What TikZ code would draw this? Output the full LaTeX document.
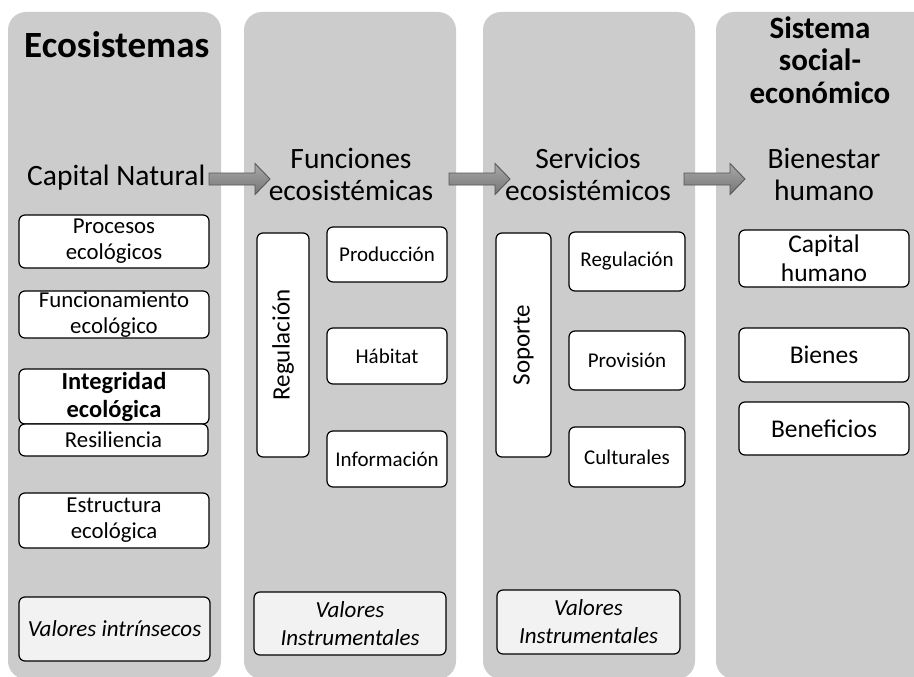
\documentclass[tikz,border=0pt]{standalone}
\usepackage{fontspec}
\setmainfont{Carlito}
\begin{document}
\begin{tikzpicture}[x=1pt,y=-1pt,
  column/.style={fill=colgray, draw=none, rounded corners=18pt},
  box/.style={draw=black, line width=1.2pt, rounded corners=6pt, fill=white,
    inner sep=0pt, align=center, text=black, font=\fontsize{22.8}{26}\selectfont},
  smallbox/.style={box, font=\fontsize{21}{25}\selectfont},
  widebox/.style={box, font=\fontsize{25.5}{29}\selectfont},
  valbox/.style={box, fill=valfill, font=\fontsize{23}{28}\selectfont\itshape},
  vbox/.style={box, rotate=90, font=\fontsize{25}{29}\selectfont},
  heading/.style={inner sep=0pt, align=center, text=black, font=\fontsize{29.5}{32}\selectfont},
  title/.style={inner sep=0pt, align=center, text=black, font=\fontsize{31}{32.5}\selectfont\bfseries},
  barrow/.style={draw=arrowedge, line width=0.9pt, top color=arrowtop, bottom color=arrowbot}
]
\definecolor{colgray}{RGB}{204,204,204}
\definecolor{valfill}{RGB}{242,242,242}
\definecolor{arrowtop}{RGB}{168,168,168}
\definecolor{arrowbot}{RGB}{118,118,118}
\definecolor{arrowedge}{RGB}{85,85,85}
\newcommand\blockarrow[1]{%
  \draw[barrow] (#1) ++(0,-5.5) -- ++(46,0) -- ++(0,-9.5) -- ++(15,15.5)
    -- ++(-15,15.5) -- ++(0,-9.5) -- ++(-46,0) -- cycle;}

\clip (0,0) rectangle (914,677);
\fill[white] (0,0) rectangle (914,677);

% four background columns
\fill[column] (8,12) rectangle (221,679);
\fill[column] (244,12) rectangle (456,679);
\fill[column] (483,12) rectangle (695,679);
\fill[column] (716,12) rectangle (935,679);

% column titles
\node[inner sep=0pt, anchor=base west, font=\fontsize{37}{40}\selectfont\bfseries] (eco) at (24,58) {Ecosistemas};
\node[title, anchor=base] (sse) at (820,103) {Sistema\\social-\\económico};

% stage headings (anchored on the baseline of their last line)
\node[heading, anchor=base west] (capnat) at (27,185) {Capital Natural};
\node[heading, anchor=base] (funeco) at (351,200) {Funciones\\ecosistémicas};
\node[heading, anchor=base] (sereco) at (588,200) {Servicios\\ecosistémicos};
\node[heading, anchor=base] (bienes) at (824,200) {Bienestar\\humano};

% block arrows between the stages
\coordinate (a1) at (209,178.5);
\coordinate (a2) at (449,178.5);
\coordinate (a3) at (684,178.5);
\blockarrow{a1}
\blockarrow{a2}
\blockarrow{a3}

% natural capital
\node[box, minimum width=190pt, minimum height=53pt] (procesos) at (114,241.5) {Procesos\\ecológicos};
\node[box, minimum width=190pt, minimum height=47pt] (funcion) at (114,314.5) {Funcionamiento\\ecológico};
\node[box, minimum width=190pt, minimum height=55pt, font=\fontsize{24.5}{28}\selectfont\bfseries] (integ) at (114,396.5) {Integridad\\ecológica};
\node[box, minimum width=189pt, minimum height=32pt] (resil) at (113.5,440) {Resiliencia};
\node[box, minimum width=190pt, minimum height=55pt] (estruc) at (114,520.5) {Estructura\\ecológica};
\node[valbox, minimum width=191pt, minimum height=64pt] (valintr) at (114.5,629) {Valores intrínsecos};

% ecosystem functions
\node[vbox, minimum width=224pt, minimum height=52pt] (fregul) at (283,345) {Regulación};
\node[smallbox, minimum width=120pt, minimum height=55pt] (fprod) at (387,254.5) {Producción};
\node[smallbox, minimum width=120pt, minimum height=56pt] (fhab) at (387,356) {Hábitat};
\node[smallbox, minimum width=120pt, minimum height=56pt] (finfo) at (387,459) {Información};
\node[valbox, minimum width=192pt, minimum height=63pt] (valinst1) at (350,623.5) {Valores\\Instrumentales};

% ecosystem services
\node[vbox, minimum width=224pt, minimum height=55pt] (ssop) at (523.5,345) {Soporte};
\node[smallbox, minimum width=116pt, minimum height=59pt] (sregul) at (627,261.5) {Regulación};
\node[smallbox, minimum width=116pt, minimum height=59pt] (sprov) at (627,360.5) {Provisión};
\node[smallbox, minimum width=116pt, minimum height=60pt] (scult) at (627,457) {Culturales};
\node[valbox, minimum width=183pt, minimum height=64pt] (valinst2) at (588.5,622) {Valores\\Instrumentales};

% human well-being
\node[widebox, minimum width=170pt, minimum height=57pt] (caphum) at (824,258.5) {Capital\\humano};
\node[widebox, minimum width=170pt, minimum height=54pt] (bien) at (824,355) {Bienes};
\node[widebox, minimum width=170pt, minimum height=53pt] (benef) at (824,428.5) {Beneficios};
\end{tikzpicture}
\end{document}
